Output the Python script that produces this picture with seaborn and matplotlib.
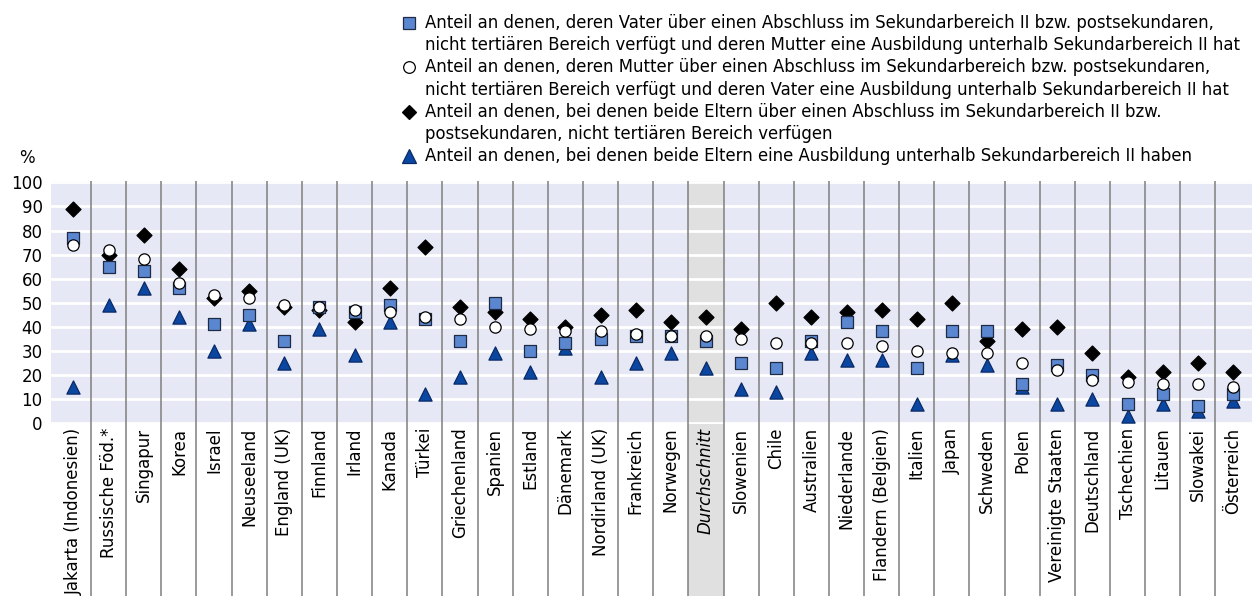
import numpy as np
import pandas as pd
import matplotlib
matplotlib.use("Agg")
import matplotlib.pyplot as plt
import matplotlib.transforms as mtransforms
from matplotlib.lines import Line2D
from matplotlib.patches import Rectangle
import seaborn as sns

countries = ["Jakarta (Indonesien)", "Russische Föd.*", "Singapur", "Korea", "Israel",
             "Neuseeland", "England (UK)", "Finnland", "Irland", "Kanada", "Türkei",
             "Griechenland", "Spanien", "Estland", "Dänemark", "Nordirland (UK)",
             "Frankreich", "Norwegen", "Durchschnitt", "Slowenien", "Chile", "Australien",
             "Niederlande", "Flandern (Belgien)", "Italien", "Japan", "Schweden", "Polen",
             "Vereinigte Staaten", "Deutschland", "Tschechien", "Litauen", "Slowakei",
             "Österreich"]

vater_sek = [77, 65, 63, 56, 41, 45, 34, 48, 46, 49, 43, 34, 50, 30, 33, 35,
             36, 36, 34, 25, 23, 34, 42, 38, 23, 38, 38, 16, 24, 20, 8, 12, 7, 12]
mutter_sek = [74, 72, 68, 58, 53, 52, 49, 48, 47, 46, 44, 43, 40, 39, 38, 38,
              37, 36, 36, 35, 33, 33, 33, 32, 30, 29, 29, 25, 22, 18, 17, 16, 16, 15]
beide_sek = [89, 70, 78, 64, 52, 55, 48, 47, 42, 56, 73, 48, 46, 43, 40, 45,
             47, 42, 44, 39, 50, 44, 46, 47, 43, 50, 34, 39, 40, 29, 19, 21, 25, 21]
beide_unter = [15, 49, 56, 44, 30, 41, 25, 39, 28, 42, 12, 19, 29, 21, 31, 19,
               25, 29, 23, 14, 13, 29, 26, 26, 8, 28, 24, 15, 8, 10, 3, 8, 5, 9]

legend_labels = [
    "Anteil an denen, deren Vater über einen Abschluss im Sekundarbereich II bzw. postsekundaren,\n"
    "nicht tertiären Bereich verfügt und deren Mutter eine Ausbildung unterhalb Sekundarbereich II hat",
    "Anteil an denen, deren Mutter über einen Abschluss im Sekundarbereich bzw. postsekundaren,\n"
    "nicht tertiären Bereich verfügt und deren Vater eine Ausbildung unterhalb Sekundarbereich II hat",
    "Anteil an denen, bei denen beide Eltern über einen Abschluss im Sekundarbereich II bzw.\n"
    "postsekundaren, nicht tertiären Bereich verfügen",
    "Anteil an denen, bei denen beide Eltern eine Ausbildung unterhalb Sekundarbereich II haben",
]
yticks = [0, 10, 20, 30, 40, 50, 60, 70, 80, 90, 100]
avg_label = "Durchschnitt"

sns.set_theme(style="white")
plt.rcParams["font.family"] = ["DejaVu Sans"]
plt.rcParams["text.color"] = "#000000"

W, H = 1252, 596
fig = plt.figure(figsize=(W / 100, H / 100), dpi=100)
ax_left, ax_right, ax_top, ax_bottom = 51, 1252, 181, 423.5
ax = fig.add_axes([ax_left / W, 1 - ax_bottom / H, (ax_right - ax_left) / W, (ax_bottom - ax_top) / H])
ax.set_facecolor("#E6E8F5")

df = pd.DataFrame({"Land": countries, "vater": vater_sek, "mutter": mutter_sek,
                   "beide": beide_sek, "unter": beide_unter})
n = len(countries)

styles = [
    ("beide", "D", 58, "#000000", "#000000", 3),
    ("unter", "^", 90, "#0B47A1", "#0A2A66", 4),
    ("vater", "s", 78, "#5B87D1", "#1F2A44", 5),
    ("mutter", "o", 66, "#FFFFFF", "#000000", 6),
]
for col, mk, s, fc, ec, z in styles:
    sns.scatterplot(data=df, x="Land", y=col, marker=mk, s=s, color=fc,
                    edgecolor=ec, linewidth=0.9, zorder=z, ax=ax, legend=False)

ax.set_xlim(-0.64, n - 1 + 0.54)
ax.set_ylim(-0.3, 100.6)
ax.set_yticks(yticks)
ax.set_yticklabels([str(t) for t in yticks], fontsize=12, color="#000000")
ax.set_xticks(np.arange(n))
ax.set_xticklabels(countries, rotation=90, fontsize=12, va="top", ha="center", color="#000000")
for lbl in ax.get_xticklabels():
    if lbl.get_text() == avg_label:
        lbl.set_style("italic")
ax.tick_params(axis="both", length=0)
ax.tick_params(axis="y", pad=6)
ax.tick_params(axis="x", pad=3)
ax.set_xlabel("")
ax.set_ylabel("")
for sp in ax.spines.values():
    sp.set_visible(False)
ax.set_axisbelow(True)
ax.yaxis.grid(True, color="white", linewidth=2)
ax.xaxis.grid(False)

trans = mtransforms.blended_transform_factory(ax.transData, ax.transAxes)
ybot = -(H - ax_bottom) / (ax_bottom - ax_top)
avg_idx = countries.index(avg_label)
ax.add_patch(Rectangle((avg_idx - 0.5, ybot), 1, 1 - ybot, transform=trans,
                       facecolor="#E0E0E0", edgecolor="none", zorder=0.2, clip_on=False))
ax.vlines(np.arange(n - 1) + 0.5, ybot, 1, transform=trans, colors="#7F7F7F",
          linewidth=1.1, zorder=1, clip_on=False)

fig.text(27 / W, 1 - 158 / H, "%", fontsize=12, ha="center", va="center", color="#000000")

# legend
leg_x_marker = 409
leg_x_text = 425
line_h = 22.2
y0 = 23
row = 0
leg_styles = [("s", 8.8, "#5B87D1", "#1F2A44"), ("o", 8.4, "#FFFFFF", "#000000"),
              ("D", 7.4, "#000000", "#000000"), ("^", 9.6, "#0B47A1", "#0A2A66")]
for (mk, ms, fc, ec), lab in zip(leg_styles, legend_labels):
    yc = y0 + row * line_h
    fig.add_artist(Line2D([leg_x_marker / W], [1 - yc / H], marker=mk, markersize=ms,
                          markerfacecolor=fc, markeredgecolor=ec, markeredgewidth=0.9,
                          linestyle="none", transform=fig.transFigure))
    for i, line in enumerate(lab.split("\n")):
        fig.text(leg_x_text / W, 1 - (yc + i * line_h) / H, line, fontsize=11.9,
                 ha="left", va="center", color="#000000")
    row += len(lab.split("\n"))

fig.savefig("out.png", dpi=100)
